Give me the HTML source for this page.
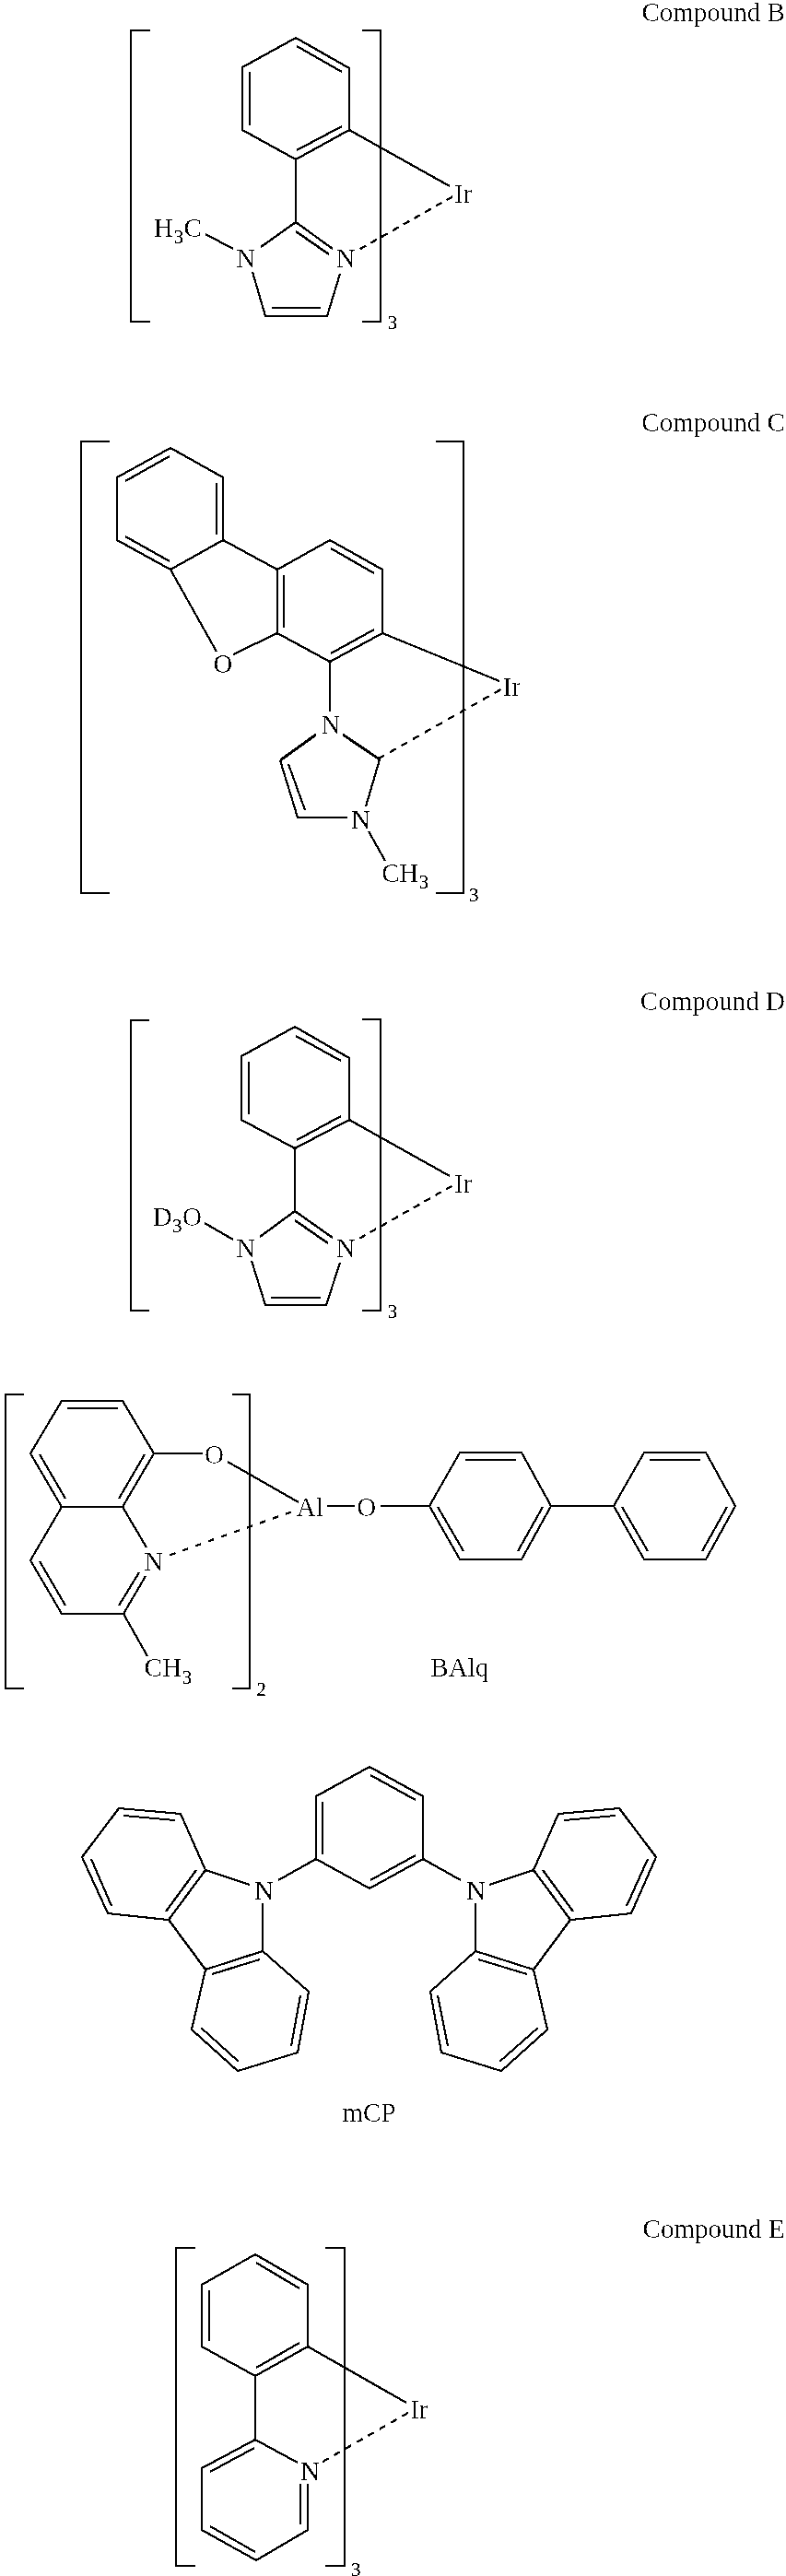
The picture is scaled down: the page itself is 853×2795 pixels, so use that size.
<!DOCTYPE html>
<html><head><meta charset="utf-8"><title>Compounds</title>
<style>
html,body{margin:0;padding:0;background:#fff;}
body{width:853px;height:2795px;overflow:hidden;}
svg{display:block;}
svg text{font-family:"Liberation Serif", serif;fill:#000;}
</style></head><body>
<svg width="853" height="2795" viewBox="0 0 853 2795">
<defs><filter id="bin" x="0" y="0" width="100%" height="100%" filterUnits="userSpaceOnUse"><feComponentTransfer><feFuncA type="discrete" tableValues="0 1"/></feComponentTransfer></filter><filter id="bint" x="0" y="0" width="100%" height="100%" filterUnits="userSpaceOnUse"><feComponentTransfer><feFuncA type="discrete" tableValues="0 0 1"/></feComponentTransfer></filter><filter id="bins" x="0" y="0" width="100%" height="100%" filterUnits="userSpaceOnUse"><feComponentTransfer><feFuncA type="discrete" tableValues="0 0 1 1 1"/></feComponentTransfer></filter></defs>
<rect width="853" height="2795" fill="#fff"/>
<g fill="none" filter="url(#bin)" stroke="#000" stroke-linecap="butt" stroke-linejoin="miter">
<polyline points="163.0,33.0 142.0,33.0 142.0,349.0 163.0,349.0" stroke-width="2.2"/>
<polyline points="393.0,33.0 413.0,33.0 413.0,349.0 393.0,349.0" stroke-width="2.2"/>
<polygon points="321.0,41.0 379.0,74.0 379.0,141.0 321.0,173.0 263.0,141.0 263.0,73.0" stroke-width="2.2"/>
<line x1="322.0" y1="50.0" x2="371.0" y2="78.0" stroke-width="2.2"/>
<line x1="371.0" y1="137.0" x2="322.0" y2="163.0" stroke-width="2.2"/>
<line x1="271.0" y1="136.0" x2="271.0" y2="78.0" stroke-width="2.2"/>
<line x1="321.0" y1="173.0" x2="321.0" y2="241.0" stroke-width="2.2"/>
<line x1="321.0" y1="241.0" x2="283.0" y2="268.0" stroke-width="2.2"/>
<polyline points="274.0,295.0 288.0,343.0 355.0,343.0 369.0,297.0" stroke-width="2.2"/>
<line x1="295.0" y1="334.0" x2="348.0" y2="334.0" stroke-width="2.2"/>
<line x1="321.0" y1="241.0" x2="361.0" y2="270.0" stroke-width="2.2"/>
<line x1="321.0" y1="251.0" x2="357.0" y2="276.0" stroke-width="2.6"/>
<line x1="379.0" y1="141.0" x2="488.0" y2="202.0" stroke-width="2.2"/>
<line x1="390.7" y1="270.2" x2="491.3" y2="213.2" stroke-width="2.3" stroke-dasharray="7.60 5.90"/>
<line x1="223.0" y1="254.0" x2="253.0" y2="270.0" stroke-width="2.2"/>
<polyline points="162.0,1107.0 142.0,1107.0 142.0,1422.0 162.0,1422.0" stroke-width="2.2"/>
<polyline points="393.0,1106.0 413.0,1106.0 413.0,1422.0 393.0,1422.0" stroke-width="2.2"/>
<polygon points="320.0,1114.0 379.0,1148.0 379.0,1215.0 320.0,1246.0 262.0,1215.0 262.0,1146.0" stroke-width="2.2"/>
<line x1="321.0" y1="1124.0" x2="370.0" y2="1151.0" stroke-width="2.2"/>
<line x1="370.0" y1="1211.0" x2="322.0" y2="1237.0" stroke-width="2.2"/>
<line x1="270.0" y1="1209.0" x2="270.0" y2="1152.0" stroke-width="2.2"/>
<line x1="320.0" y1="1246.0" x2="320.0" y2="1314.0" stroke-width="2.2"/>
<line x1="320.0" y1="1314.0" x2="282.0" y2="1342.0" stroke-width="2.2"/>
<polyline points="273.0,1368.0 288.0,1416.0 354.0,1416.0 369.0,1370.0" stroke-width="2.2"/>
<line x1="294.0" y1="1408.0" x2="348.0" y2="1408.0" stroke-width="2.2"/>
<line x1="320.0" y1="1314.0" x2="361.0" y2="1343.0" stroke-width="2.2"/>
<line x1="320.0" y1="1324.0" x2="356.0" y2="1349.0" stroke-width="2.6"/>
<line x1="379.0" y1="1215.0" x2="488.0" y2="1276.0" stroke-width="2.2"/>
<line x1="390.0" y1="1343.7" x2="490.6" y2="1286.7" stroke-width="2.3" stroke-dasharray="7.60 5.90"/>
<line x1="222.0" y1="1327.0" x2="253.0" y2="1345.0" stroke-width="2.2"/>
<polyline points="119.0,479.0 88.0,479.0 88.0,969.0 119.0,969.0" stroke-width="2.2"/>
<polyline points="473.0,479.0 503.0,479.0 503.0,969.0 473.0,969.0" stroke-width="2.2"/>
<polygon points="185.0,486.0 242.0,518.0 242.0,586.0 185.0,618.0 127.0,586.0 127.0,518.0" stroke-width="2.2"/>
<line x1="235.0" y1="524.0" x2="235.0" y2="580.0" stroke-width="2.2"/>
<line x1="184.0" y1="609.0" x2="136.0" y2="582.0" stroke-width="2.2"/>
<line x1="136.0" y1="522.0" x2="184.0" y2="495.0" stroke-width="2.2"/>
<line x1="242.0" y1="586.0" x2="301.0" y2="618.0" stroke-width="2.2"/>
<line x1="185.0" y1="618.0" x2="235.0" y2="707.0" stroke-width="2.2"/>
<line x1="253.0" y1="710.0" x2="301.0" y2="687.0" stroke-width="2.2"/>
<polygon points="301.0,618.0 358.0,586.0 415.0,618.0 415.0,687.0 358.0,718.0 301.0,687.0" stroke-width="2.2"/>
<line x1="359.0" y1="595.0" x2="406.0" y2="622.0" stroke-width="2.2"/>
<line x1="406.0" y1="683.0" x2="359.0" y2="709.0" stroke-width="2.2"/>
<line x1="308.0" y1="681.0" x2="308.0" y2="624.0" stroke-width="2.2"/>
<line x1="358.0" y1="718.0" x2="358.0" y2="772.0" stroke-width="2.6"/>
<line x1="372.0" y1="797.0" x2="412.0" y2="824.0" stroke-width="2.8"/>
<line x1="343.0" y1="797.0" x2="304.0" y2="825.0" stroke-width="3.0"/>
<polyline points="304.0,825.0 323.0,887.0 377.0,887.0" stroke-width="2.2"/>
<line x1="313.0" y1="829.0" x2="331.0" y2="879.0" stroke-width="2.2"/>
<line x1="412.0" y1="824.0" x2="397.0" y2="875.0" stroke-width="2.2"/>
<line x1="400.0" y1="902.0" x2="418.0" y2="934.0" stroke-width="2.2"/>
<line x1="415.0" y1="687.0" x2="542.0" y2="739.0" stroke-width="2.2"/>
<line x1="410.2" y1="823.5" x2="543.5" y2="748.1" stroke-width="2.3" stroke-dasharray="7.70 6.84"/>
<polyline points="26.0,1513.0 6.0,1513.0 6.0,1832.0 26.0,1832.0" stroke-width="2.2"/>
<polyline points="252.0,1513.0 271.0,1513.0 271.0,1832.0 252.0,1832.0" stroke-width="2.2"/>
<polygon points="67.0,1520.0 133.0,1520.0 167.0,1577.0 133.0,1635.0 67.0,1635.0 33.0,1577.0" stroke-width="2.2"/>
<line x1="73.0" y1="1528.0" x2="128.0" y2="1528.0" stroke-width="2.2"/>
<line x1="157.0" y1="1578.0" x2="129.0" y2="1626.0" stroke-width="2.2"/>
<line x1="71.0" y1="1626.0" x2="43.0" y2="1578.0" stroke-width="2.2"/>
<line x1="167.0" y1="1577.0" x2="220.0" y2="1577.0" stroke-width="2.2"/>
<line x1="247.0" y1="1586.0" x2="324.0" y2="1630.0" stroke-width="2.2"/>
<line x1="355.0" y1="1634.0" x2="385.0" y2="1634.0" stroke-width="2.2"/>
<line x1="413.0" y1="1634.0" x2="466.0" y2="1634.0" stroke-width="2.2"/>
<line x1="133.0" y1="1635.0" x2="159.0" y2="1679.0" stroke-width="2.2"/>
<polyline points="67.0,1635.0 33.0,1693.0 67.0,1751.0 134.0,1751.0 158.0,1710.0" stroke-width="2.2"/>
<line x1="43.0" y1="1694.0" x2="71.0" y2="1742.0" stroke-width="2.2"/>
<line x1="129.0" y1="1742.0" x2="151.0" y2="1706.0" stroke-width="2.2"/>
<line x1="184.1" y1="1687.3" x2="316.0" y2="1640.5" stroke-width="2.3" stroke-dasharray="6.70 8.11"/>
<line x1="134.0" y1="1751.0" x2="160.0" y2="1797.0" stroke-width="2.2"/>
<polygon points="466.0,1634.0 499.0,1576.0 566.0,1576.0 598.0,1634.0 566.0,1692.0 499.0,1692.0" stroke-width="2.2"/>
<line x1="505.0" y1="1584.0" x2="560.0" y2="1584.0" stroke-width="2.2"/>
<line x1="589.0" y1="1635.0" x2="562.0" y2="1683.0" stroke-width="2.2"/>
<line x1="503.0" y1="1683.0" x2="475.0" y2="1635.0" stroke-width="2.2"/>
<polygon points="666.0,1634.0 699.0,1576.0 766.0,1576.0 798.0,1634.0 766.0,1692.0 699.0,1692.0" stroke-width="2.2"/>
<line x1="705.0" y1="1584.0" x2="760.0" y2="1584.0" stroke-width="2.2"/>
<line x1="789.0" y1="1635.0" x2="762.0" y2="1683.0" stroke-width="2.2"/>
<line x1="703.0" y1="1683.0" x2="675.0" y2="1635.0" stroke-width="2.2"/>
<line x1="598.0" y1="1634.0" x2="666.0" y2="1634.0" stroke-width="2.2"/>
<polygon points="129.0,1962.0 196.0,1968.0 223.0,2029.0 183.0,2083.0 117.0,2076.0 89.0,2015.0" stroke-width="2.2"/>
<line x1="134.0" y1="1970.0" x2="190.0" y2="1975.0" stroke-width="2.2"/>
<line x1="213.0" y1="2029.0" x2="180.0" y2="2074.0" stroke-width="2.2"/>
<line x1="121.0" y1="2068.0" x2="99.0" y2="2017.0" stroke-width="2.2"/>
<line x1="223.0" y1="2029.0" x2="271.0" y2="2045.0" stroke-width="2.2"/>
<line x1="183.0" y1="2083.0" x2="223.0" y2="2137.0" stroke-width="2.2"/>
<polygon points="223.0,2137.0 285.0,2117.0 335.0,2161.0 323.0,2227.0 258.0,2247.0 208.0,2202.0" stroke-width="2.2"/>
<line x1="230.0" y1="2142.0" x2="282.0" y2="2126.0" stroke-width="2.2"/>
<line x1="326.0" y1="2165.0" x2="316.0" y2="2220.0" stroke-width="2.2"/>
<line x1="259.0" y1="2237.0" x2="218.0" y2="2200.0" stroke-width="2.2"/>
<line x1="285.0" y1="2065.0" x2="285.0" y2="2117.0" stroke-width="2.2"/>
<line x1="302.0" y1="2040.0" x2="343.0" y2="2017.0" stroke-width="2.2"/>
<polygon points="672.0,1962.0 606.0,1968.0 579.0,2029.0 619.0,2083.0 685.0,2076.0 712.0,2015.0" stroke-width="2.2"/>
<line x1="668.0" y1="1970.0" x2="612.0" y2="1975.0" stroke-width="2.2"/>
<line x1="589.0" y1="2029.0" x2="622.0" y2="2074.0" stroke-width="2.2"/>
<line x1="680.0" y1="2068.0" x2="703.0" y2="2017.0" stroke-width="2.2"/>
<line x1="579.0" y1="2029.0" x2="531.0" y2="2045.0" stroke-width="2.2"/>
<line x1="619.0" y1="2083.0" x2="579.0" y2="2137.0" stroke-width="2.2"/>
<polygon points="579.0,2137.0 516.0,2117.0 467.0,2161.0 479.0,2227.0 544.0,2247.0 594.0,2202.0" stroke-width="2.2"/>
<line x1="572.0" y1="2142.0" x2="519.0" y2="2126.0" stroke-width="2.2"/>
<line x1="475.0" y1="2165.0" x2="486.0" y2="2220.0" stroke-width="2.2"/>
<line x1="542.0" y1="2237.0" x2="584.0" y2="2200.0" stroke-width="2.2"/>
<line x1="516.0" y1="2065.0" x2="516.0" y2="2117.0" stroke-width="2.2"/>
<line x1="500.0" y1="2040.0" x2="459.0" y2="2017.0" stroke-width="2.2"/>
<polygon points="401.0,1917.0 459.0,1949.0 459.0,2017.0 401.0,2049.0 343.0,2017.0 343.0,1949.0" stroke-width="2.2"/>
<line x1="402.0" y1="1926.0" x2="451.0" y2="1953.0" stroke-width="2.2"/>
<line x1="451.0" y1="2013.0" x2="402.0" y2="2040.0" stroke-width="2.2"/>
<line x1="350.0" y1="2012.0" x2="350.0" y2="1955.0" stroke-width="2.2"/>
<polyline points="212.0,2439.0 191.0,2439.0 191.0,2784.0 212.0,2784.0" stroke-width="2.2"/>
<polyline points="353.0,2439.0 374.0,2439.0 374.0,2784.0 353.0,2784.0" stroke-width="2.2"/>
<polygon points="277.0,2446.0 334.0,2479.0 334.0,2546.0 277.0,2578.0 219.0,2546.0 219.0,2479.0" stroke-width="2.2"/>
<line x1="278.0" y1="2455.0" x2="325.0" y2="2483.0" stroke-width="2.2"/>
<line x1="325.0" y1="2542.0" x2="278.0" y2="2569.0" stroke-width="2.2"/>
<line x1="227.0" y1="2540.0" x2="227.0" y2="2485.0" stroke-width="2.2"/>
<line x1="277.0" y1="2578.0" x2="277.0" y2="2647.0" stroke-width="2.2"/>
<polyline points="323.0,2672.0 277.0,2647.0 219.0,2678.0 219.0,2745.0 278.0,2778.0 334.0,2745.0 334.0,2695.0" stroke-width="2.2"/>
<line x1="228.0" y1="2682.0" x2="276.0" y2="2656.0" stroke-width="2.2"/>
<line x1="277.0" y1="2769.0" x2="228.0" y2="2741.0" stroke-width="2.2"/>
<line x1="326.0" y1="2695.0" x2="326.0" y2="2739.0" stroke-width="2.2"/>
<line x1="334.0" y1="2546.0" x2="441.0" y2="2607.0" stroke-width="2.2"/>
<line x1="350.2" y1="2671.0" x2="442.8" y2="2618.0" stroke-width="2.3" stroke-dasharray="7.30 6.90"/>
</g>
<g filter="url(#bint)">
<text x="256.2" y="290.0" font-size="29.0">N</text>
<text x="364.7" y="290.0" font-size="29.0">N</text>
<text x="493.0" y="220.0" font-size="29.0">Ir</text>
<text x="167.1" y="257.3" font-size="29.0">H</text>
<text x="199.5" y="257.3" font-size="29.0">C</text>
<text x="696.4" y="23.0" font-size="29.0">Compound B</text>
<text x="256.2" y="1363.5" font-size="29.0">N</text>
<text x="364.7" y="1363.5" font-size="29.0">N</text>
<text x="493.0" y="1293.5" font-size="29.0">Ir</text>
<text x="165.7" y="1329.5" font-size="29.0">D</text>
<text x="198.1" y="1329.5" font-size="29.0">O</text>
<text x="694.8" y="1095.8" font-size="29.0">Compound D</text>
<text x="231.5" y="729.7" font-size="29.0">O</text>
<text x="348.5" y="796.0" font-size="29.0">N</text>
<text x="380.9" y="899.0" font-size="29.0">N</text>
<text x="414.3" y="956.6" font-size="29.0">C</text>
<text x="433.3" y="956.6" font-size="29.0">H</text>
<text x="545.7" y="754.9" font-size="29.0">Ir</text>
<text x="696.3" y="468.2" font-size="29.0">Compound C</text>
<text x="222.1" y="1588.0" font-size="29.0">O</text>
<text x="321.8" y="1645.1" font-size="29.0">Al</text>
<text x="387.3" y="1645.1" font-size="29.0">O</text>
<text x="156.3" y="1703.6" font-size="29.0">N</text>
<text x="156.6" y="1819.0" font-size="29.0">C</text>
<text x="176.3" y="1819.0" font-size="29.0">H</text>
<text x="467.3" y="1818.8" font-size="29.0">BAlq</text>
<text x="275.9" y="2061.3" font-size="29.0">N</text>
<text x="505.9" y="2061.3" font-size="29.0">N</text>
<text x="371.5" y="2302.2" font-size="29.0">mCP</text>
<text x="325.9" y="2690.7" font-size="29.0">N</text>
<text x="445.3" y="2623.5" font-size="29.0">Ir</text>
<text x="697.6" y="2427.8" font-size="29.0">Compound E</text>
</g>
<g filter="url(#bins)">
<text x="420.7" y="356.5" font-size="20.8">3</text>
<text x="188.7" y="263.6" font-size="20.8">3</text>
<text x="420.7" y="1430.0" font-size="20.8">3</text>
<text x="187.0" y="1337.2" font-size="20.8">3</text>
<text x="509.0" y="977.7" font-size="20.8">3</text>
<text x="454.8" y="963.8" font-size="20.8">3</text>
<text x="278.4" y="1840.0" font-size="20.8">2</text>
<text x="197.8" y="1826.8" font-size="20.8">3</text>
<text x="381.1" y="2794.5" font-size="20.8">3</text>
</g>
</svg>
</body></html>
